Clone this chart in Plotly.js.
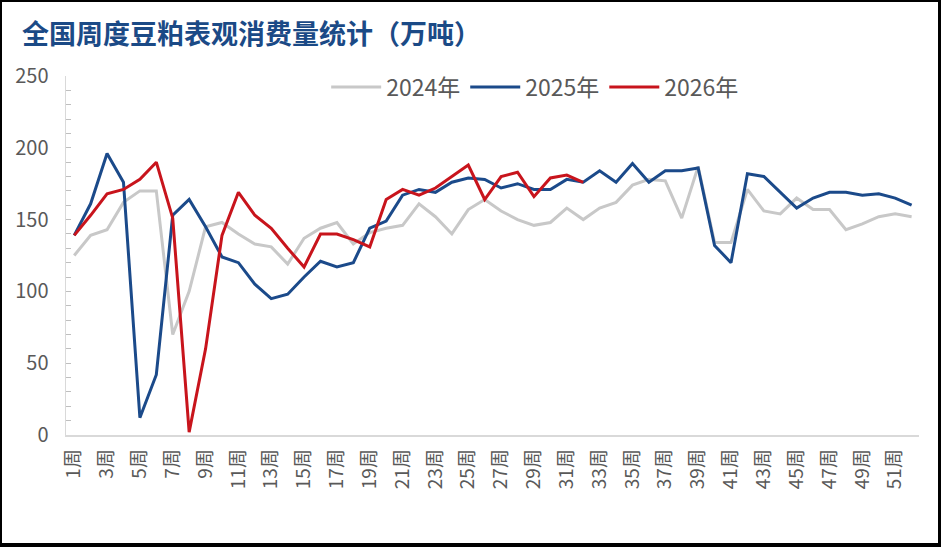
<!DOCTYPE html>
<html>
<head>
<meta charset="utf-8">
<script src="https://cdn.plot.ly/plotly-3.0.1.min.js"></script>
<style>
  html, body { margin: 0; padding: 0; background: #000; width: 941px; height: 547px; overflow: hidden; }
  #chart { position: absolute; left: 2px; top: 2px; width: 936px; height: 541px; background: #fff; }
</style>
</head>
<body>
<div id="chart"></div>
<script>
// Categories: weeks 1..52
const weeks = ["1周","2周","3周","4周","5周","6周","7周","8周","9周","10周","11周","12周","13周","14周","15周","16周","17周","18周","19周","20周","21周","22周","23周","24周","25周","26周","27周","28周","29周","30周","31周","32周","33周","34周","35周","36周","37周","38周","39周","40周","41周","42周","43周","44周","45周","46周","47周","48周","49周","50周","51周","52周"];

const tickLabels = ["1周","3周","5周","7周","9周","11周","13周","15周","17周","19周","21周","23周","25周","27周","29周","31周","33周","35周","37周","39周","41周","43周","45周","47周","49周","51周"];

const y2024 = [125,139,143,162,170,170,70,100,145,148,140,133,131,119,137,144,148,133,141,144,146,161,152,140,157,164,156,150,146,148,158,150,158,162,174,178,177,151,187,134,134,171,156,154,165,157,157,143,147,152,154,152];

const y2025 = [139,161,196,176,12,42,153,164,145,124,120,105,95,98,110,121,117,120,144,149,167,171,169,176,179,178,172,175,171,171,178,176,184,176,189,176,184,184,186,132,120,182,180,169,158,165,169,169,167,168,165,160];

const y2026 = [139,153,168,171,178,190,151,2,60,139,169,153,144,130,117,140,140,136,131,164,171,167,172,180,188,164,180,183,166,179,181,176];

const seriesNames = ["2024年","2025年","2026年"];
const seriesColors = ["#C8C8C8","#1B4A8A","#C8141C"];

const FONT = '"Noto Sans CJK SC", "Microsoft YaHei", sans-serif';

const traces = [y2024, y2025, y2026].map((vals, i) => ({
  type: 'scatter',
  mode: 'lines',
  name: seriesNames[i],
  x: weeks.slice(0, vals.length),
  y: vals,
  line: { color: seriesColors[i], width: 3 },
  hoverinfo: 'x+y+name'
}));

const layout = {
  width: 936,
  height: 541,
  paper_bgcolor: '#ffffff',
  plot_bgcolor: '#ffffff',
  margin: { l: 64, r: 19, t: 74, b: 108 },
  font: { family: FONT, color: '#595959', size: 17 },
  title: {
    text: '<b>全国周度豆粕表观消费量统计（万吨）</b>',
    font: { family: FONT, size: 27, color: '#1B4A86' },
    x: 20 / 936,
    xanchor: 'left',
    xref: 'container',
    y: 1 - 33 / 541,
    yanchor: 'middle',
    yref: 'container'
  },
  showlegend: true,
  legend: {
    orientation: 'h',
    x: 0.305,
    xanchor: 'left',
    y: 1 - (85 - 74) / 359,
    yref: 'paper',
    yanchor: 'middle',
    font: { family: FONT, size: 23, color: '#595959' },
    itemwidth: 50,
    bgcolor: 'rgba(0,0,0,0)',
    traceorder: 'normal'
  },
  xaxis: {
    type: 'category',
    categoryorder: 'array',
    categoryarray: weeks,
    range: [-0.5, 51.45],
    tickmode: 'array',
    tickvals: tickLabels,
    ticktext: tickLabels,
    tickangle: -90,
    ticks: '',
    ticklabelstandoff: 5,
    tickfont: { family: FONT, size: 19, color: '#595959' },
    showgrid: false,
    zeroline: false,
    showline: true,
    linecolor: '#D9D9D9',
    linewidth: 1.5
  },
  yaxis: {
    range: [0, 250],
    tickmode: 'linear',
    tick0: 0,
    dtick: 50,
    ticks: 'inside',
    ticklen: 5,
    tickcolor: '#BFBFBF',
    ticklabelstandoff: 12,
    tickfont: { family: FONT, size: 20, color: '#595959' },
    minor: { dtick: 10, ticks: 'inside', ticklen: 5, tickcolor: '#BFBFBF', showgrid: false },
    showgrid: false,
    zeroline: false,
    showline: true,
    linecolor: '#D9D9D9',
    linewidth: 1.5
  }
};

Plotly.newPlot('chart', traces, layout, { displayModeBar: false, staticPlot: true });
</script>
</body>
</html>
